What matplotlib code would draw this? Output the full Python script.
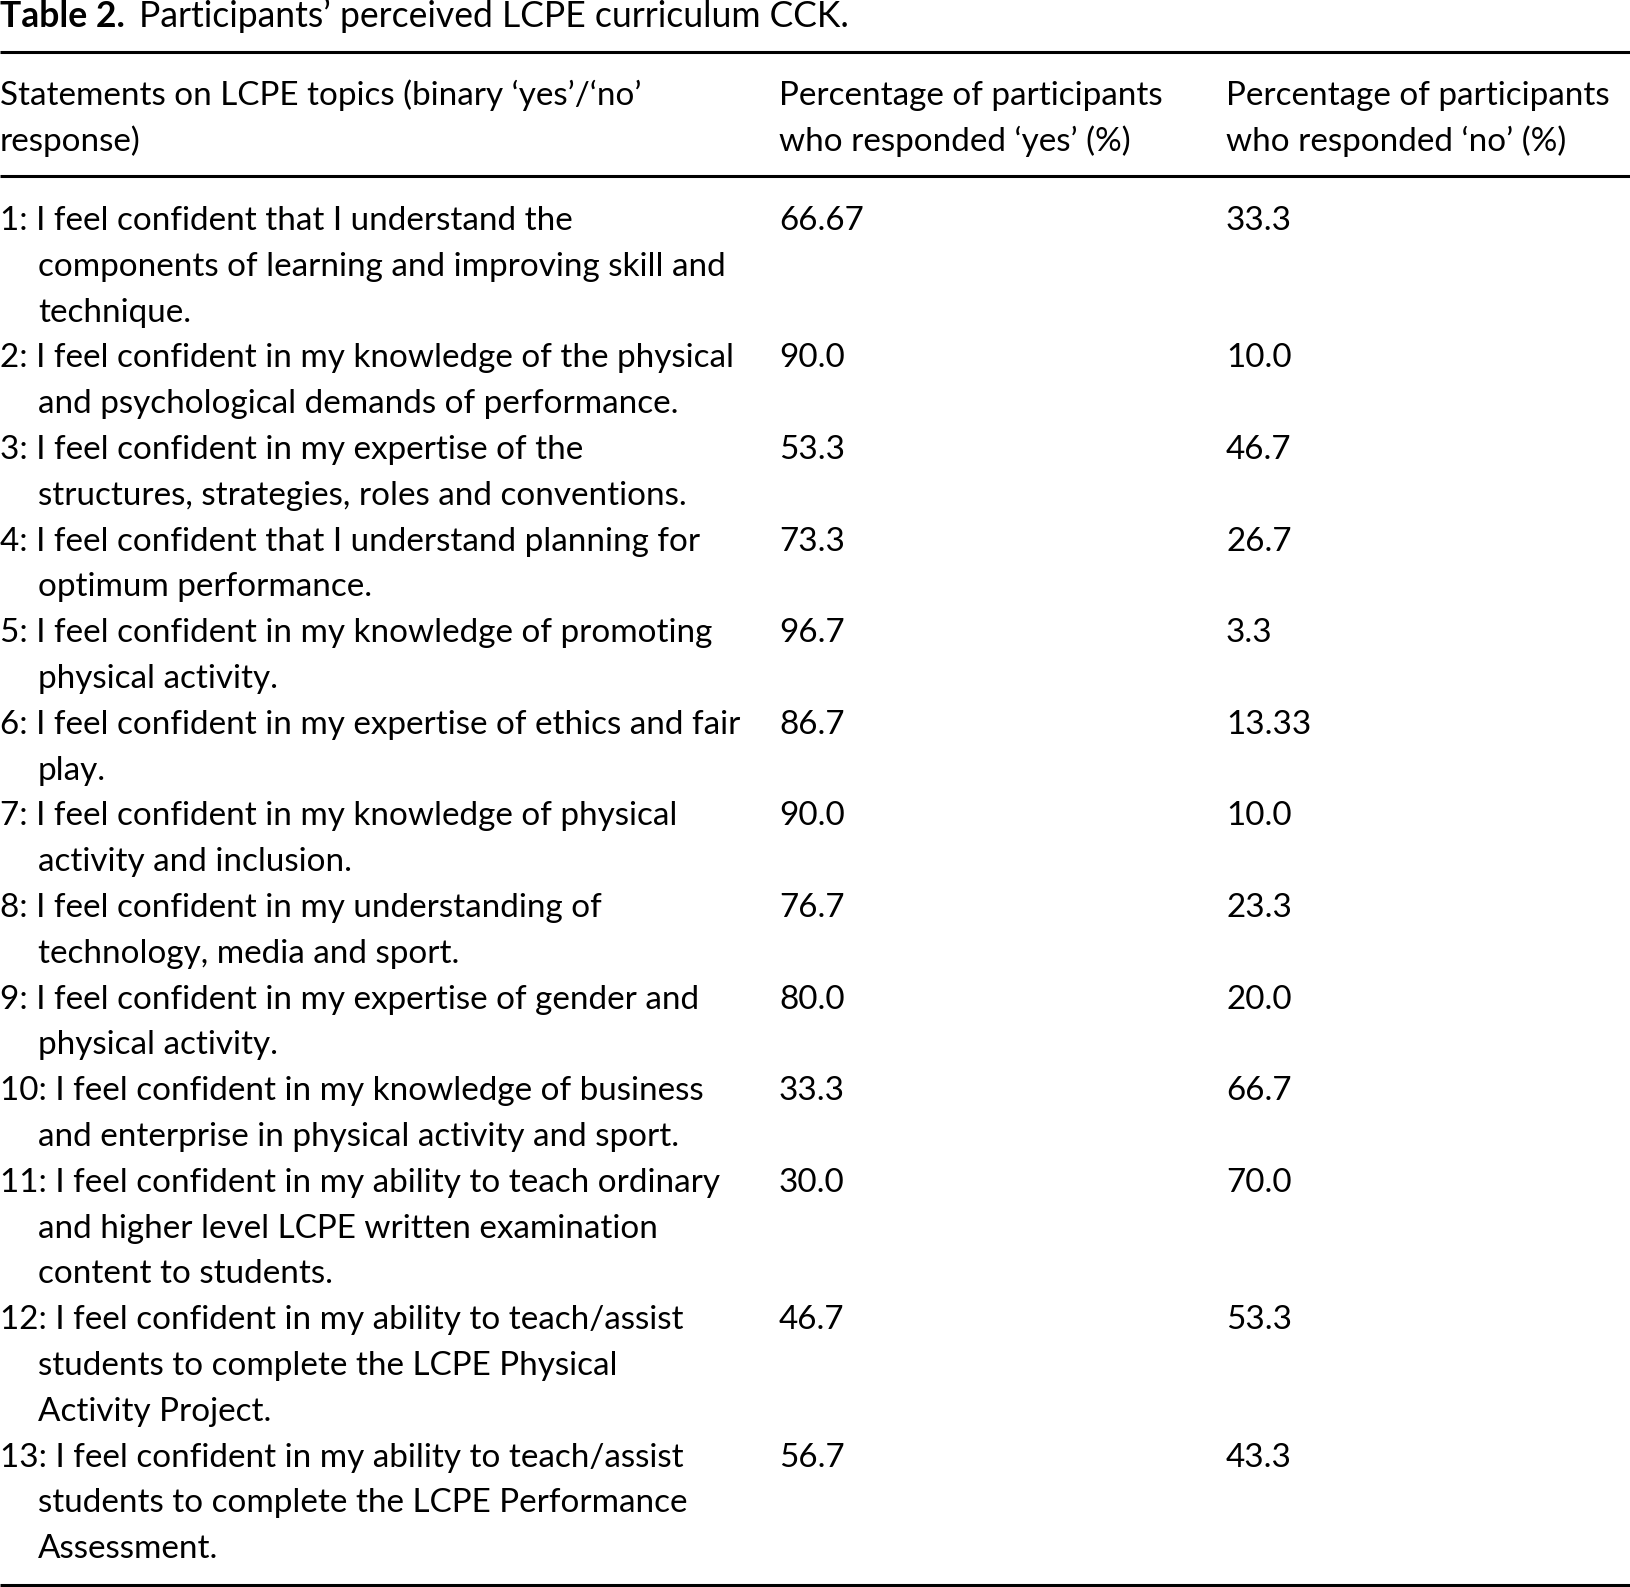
"""
Table 2 from the LCPE survey paper, redrawn as a matplotlib figure.
Writes out.png (1630 x 1587 px).
"""

import matplotlib
matplotlib.use("Agg")
import matplotlib.pyplot as plt

W, H, DPI = 1630, 1587, 100
FONT = "Lato"

TITLE_BOLD = "Table 2."
TITLE_TEXT = "Participants\u2019 perceived LCPE curriculum CCK."

HEADERS = [
    ["Statements on LCPE topics (binary \u2018yes\u2019/\u2018no\u2019", "response)"],
    ["Percentage of participants", "who responded \u2018yes\u2019 (%)"],
    ["Percentage of participants", "who responded \u2018no\u2019 (%)"],
]

STATEMENTS = [
    ["1: I feel confident that I understand the",
     "components of learning and improving skill and",
     "technique."],
    ["2: I feel confident in my knowledge of the physical",
     "and psychological demands of performance."],
    ["3: I feel confident in my expertise of the",
     "structures, strategies, roles and conventions."],
    ["4: I feel confident that I understand planning for",
     "optimum performance."],
    ["5: I feel confident in my knowledge of promoting",
     "physical activity."],
    ["6: I feel confident in my expertise of ethics and fair",
     "play."],
    ["7: I feel confident in my knowledge of physical",
     "activity and inclusion."],
    ["8: I feel confident in my understanding of",
     "technology, media and sport."],
    ["9: I feel confident in my expertise of gender and",
     "physical activity."],
    ["10: I feel confident in my knowledge of business",
     "and enterprise in physical activity and sport."],
    ["11: I feel confident in my ability to teach ordinary",
     "and higher level LCPE written examination",
     "content to students."],
    ["12: I feel confident in my ability to teach/assist",
     "students to complete the LCPE Physical",
     "Activity Project."],
    ["13: I feel confident in my ability to teach/assist",
     "students to complete the LCPE Performance",
     "Assessment."],
]

YES_PCT = ["66.67", "90.0", "53.3", "73.3", "96.7", "86.7", "90.0",
           "76.7", "80.0", "33.3", "30.0", "46.7", "56.7"]
NO_PCT = ["33.3", "10.0", "46.7", "26.7", "3.3", "13.33", "10.0",
          "23.3", "20.0", "66.7", "70.0", "53.3", "43.3"]

# layout in pixels
COL_X = [0, 779, 1226]
INDENT = 38
PITCH = 45.8
RULE_Y = [52, 176, 1585]
HEAD_BASE = [105, 151]
BODY_BASE = 230
TITLE_BASE = 27


def main():
    fig = plt.figure(figsize=(W / DPI, H / DPI), dpi=DPI)
    ax = fig.add_axes([0, 0, 1, 1])
    ax.set_xlim(0, W)
    ax.set_ylim(H, 0)
    ax.axis("off")

    # pick the font size so a known string matches its width in the original
    probe = ax.text(0, 0, "Percentage of participants", fontsize=20, family=FONT)
    fig.canvas.draw()
    fs = 20 * 384 / probe.get_window_extent().width
    probe.remove()

    tfs = fs * 1.07
    tb = ax.text(0, TITLE_BASE, TITLE_BOLD, fontsize=tfs, family=FONT,
                 fontweight="bold", va="baseline")
    fig.canvas.draw()
    x_end = tb.get_window_extent().x1
    ax.text(x_end + 14, TITLE_BASE, TITLE_TEXT, fontsize=tfs, family=FONT,
            va="baseline")

    for y in RULE_Y:
        ax.plot([0, W], [y, y], color="black", lw=2.2, solid_capstyle="butt")

    for x, lines in zip(COL_X, HEADERS):
        for k, s in enumerate(lines):
            ax.text(x, HEAD_BASE[k], s, fontsize=fs, family=FONT, va="baseline")

    line = 0
    for stmt, yes, no in zip(STATEMENTS, YES_PCT, NO_PCT):
        y0 = BODY_BASE + PITCH * line
        for k, s in enumerate(stmt):
            ax.text(COL_X[0] + (INDENT if k else 0), y0 + PITCH * k, s,
                    fontsize=fs, family=FONT, va="baseline")
        ax.text(COL_X[1], y0, yes, fontsize=fs, family=FONT, va="baseline")
        ax.text(COL_X[2], y0, no, fontsize=fs, family=FONT, va="baseline")
        line += len(stmt)

    fig.savefig("out.png", dpi=DPI)


if __name__ == "__main__":
    main()
